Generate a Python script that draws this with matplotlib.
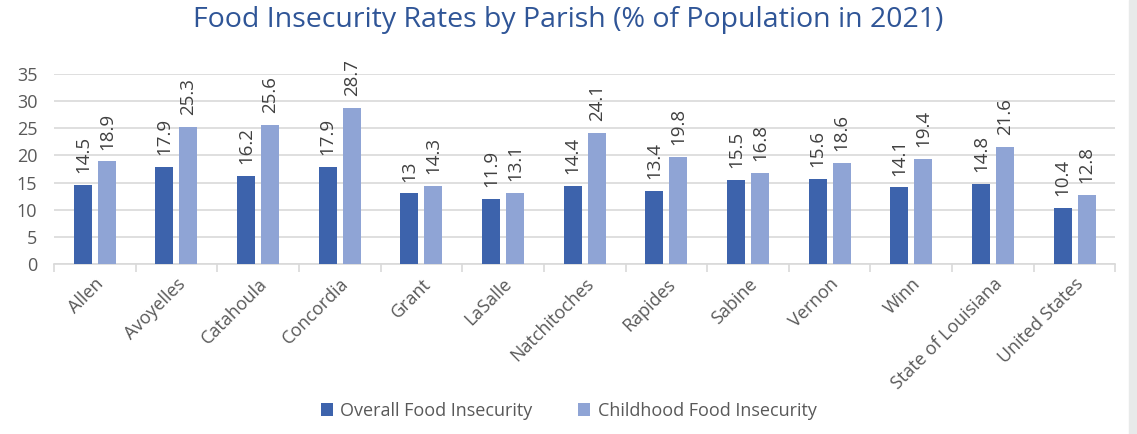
import matplotlib.pyplot as plt
import numpy as np
from matplotlib.patches import Rectangle

# Daten
parishes = ["Allen", "Avoyelles", "Catahoula", "Concordia", "Grant", "LaSalle",
            "Natchitoches", "Rapides", "Sabine", "Vernon", "Winn",
            "State of Louisiana", "United States"]
overall = [14.5, 17.9, 16.2, 17.9, 13, 11.9, 14.4, 13.4, 15.5, 15.6, 14.1, 14.8, 10.4]
childhood = [18.9, 25.3, 25.6, 28.7, 14.3, 13.1, 24.1, 19.8, 16.8, 18.6, 19.4, 21.6, 12.8]
series_names = ["Overall Food Insecurity", "Childhood Food Insecurity"]

DARK = "#3D63AC"
LIGHT = "#8FA4D5"
GREY_TXT = "#595959"

plt.rcParams["font.family"] = ["Open Sans", "DejaVu Sans"]

fig = plt.figure(figsize=(11.37, 4.34), dpi=100)
ax = fig.add_axes([0.0475, 0.392, 0.9335, 0.437])

x = np.arange(len(parishes))
bw = 0.22
off = 0.147
b1 = ax.bar(x - off, overall, bw, color=DARK, label=series_names[0], zorder=3)
b2 = ax.bar(x + off, childhood, bw, color=LIGHT, label=series_names[1], zorder=3)

for bars, vals in ((b1, overall), (b2, childhood)):
    for rect, v in zip(bars, vals):
        ax.text(rect.get_x() + rect.get_width() / 2, v + 2.2, f"{v:g}",
                rotation=90, ha="center", va="bottom", fontsize=13.5, color="#404040")

ax.set_xlim(-0.5, len(parishes) - 0.5)
ax.set_ylim(0, 35)
ax.set_yticks(range(0, 36, 5))
ax.yaxis.grid(True, color="#D9D9D9", lw=1.2, zorder=0)
ax.set_axisbelow(True)
for s in ("top", "right", "left"):
    ax.spines[s].set_visible(False)
ax.spines["bottom"].set_color("#D9D9D9")
ax.spines["bottom"].set_linewidth(1.2)

ax.set_xticks(x)
ax.set_xticklabels(parishes, rotation=45, ha="right", rotation_mode="anchor",
                   fontsize=13, color=GREY_TXT)
ax.set_xticks(np.arange(len(parishes) + 1) - 0.5, minor=True)
ax.tick_params(axis="x", which="major", length=0, pad=8)
ax.tick_params(axis="x", which="minor", length=6, color="#D9D9D9", width=1.2)
ax.tick_params(axis="y", length=0, labelsize=13, labelcolor=GREY_TXT, pad=12)

fig.text(0.5, 0.953, "Food Insecurity Rates by Parish (% of Population in 2021)",
         ha="center", va="center", fontsize=20.5, color="#2F5597")

fig.legend(handles=[b1, b2], loc="center", bbox_to_anchor=(0.5, 0.053), ncol=2,
           frameon=False, fontsize=13, labelcolor=GREY_TXT, handlelength=0.7,
           handleheight=0.7, handletextpad=0.4, columnspacing=2.5)

fig.add_artist(Rectangle((1129 / 1137, 0), 8 / 1137, 1, transform=fig.transFigure,
                         color="#E8EAEA", zorder=0))

plt.savefig("out.png", dpi=100)
